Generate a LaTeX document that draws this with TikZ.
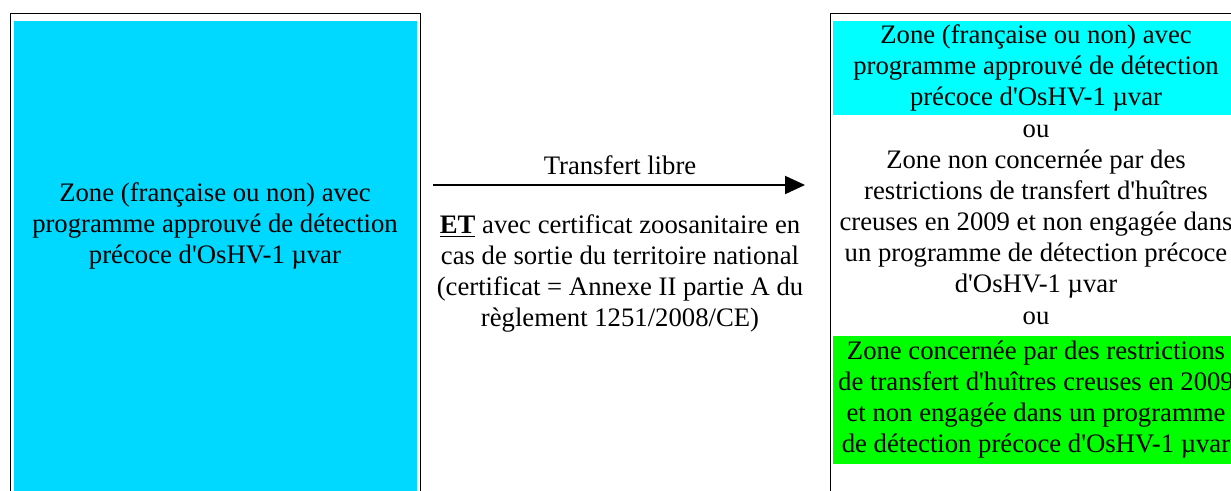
\documentclass[tikz,border=0pt]{standalone}
\usepackage{fontspec}
\setmainfont{Liberation Serif}[Ligatures=TeXOff]
\usetikzlibrary{positioning, arrows.meta}
\definecolor{srcBg}{RGB}{0, 217, 255}
\definecolor{freeBg}{RGB}{0, 255, 255}
\definecolor{restrBg}{RGB}{0, 255, 0}

\tikzset{
  zonetext/.style={align=center, inner sep=0pt, font=\fontsize{13.35pt}{15.5pt}\selectfont},
  frame/.style={draw=black, line width=0.5pt},
  flow/.style={-{Triangle[length=10pt, width=9pt]}, line width=1pt}
}

\begin{document}
\begin{tikzpicture}[x=0.5pt, y=-0.5pt]
  \useasboundingbox (0,0) rectangle (1231,491);
  \clip (0,0) rectangle (1231,491);

  % zone de depart
  \fill[srcBg] (14,21) rectangle (416.7,500);
  \draw[frame] (10.5,500) |- (420.5,13.5) -- (420.5,500);
  \node[zonetext] (src) at (215,226)
    {Zone (française ou non) avec\\programme approuvé de détection\\précoce d'OsHV-1 µvar};

  % zone d'arrivee
  \draw[frame] (830.5,500) |- (1240,13.5);
  \node[zonetext, fill=freeBg, minimum width=203pt, minimum height=47pt] (dstA) at (1036,68)
    {Zone (française ou non) avec\\programme approuvé de détection\\précoce d'OsHV-1 µvar};
  \node[zonetext] (ouA) at (1036,131) {ou};
  \node[zonetext] (dstB) at (1036,224.5)
    {Zone non concernée par des\\restrictions de transfert d'huîtres\\creuses en 2009 et non engagée dans\\un programme de détection précoce\\d'OsHV-1 µvar};
  \node[zonetext] (ouB) at (1036,318) {ou};
  \node[zonetext, fill=restrBg, minimum width=203pt, minimum height=64pt] (dstC) at (1036,400)
    {Zone concernée par des restrictions\\de transfert d'huîtres creuses en 2009\\et non engagée dans un programme\\de détection précoce d'OsHV-1 µvar};

  % transfert
  \coordinate (tail) at (433,185);
  \coordinate (head) at (805,185);
  \draw[flow] (tail) -- (head);
  \node[zonetext] (lbl) at (620,165) {Transfert libre};
  \node[zonetext] (cond) at (620,273.5)
    {\underline{\textbf{ET}} avec certificat zoosanitaire en\\cas de sortie du territoire national\\(certificat = Annexe II partie A du\\règlement 1251/2008/CE)};
\end{tikzpicture}
\end{document}
